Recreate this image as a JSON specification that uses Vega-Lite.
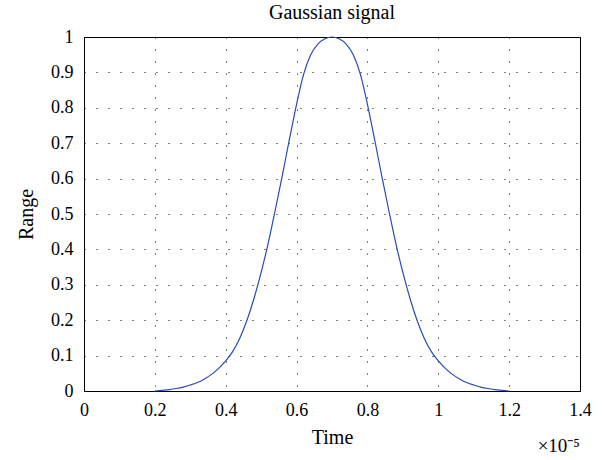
{
  "$schema": "https://vega.github.io/schema/vega-lite/v6.json",
  "width": 496,
  "height": 354,
  "autosize": {"type": "none"},
  "padding": {"left": 84, "top": 37, "right": 23, "bottom": 69},
  "background": "white",
  "config": {
    "font": "Liberation Serif",
    "view": {"stroke": "black", "strokeWidth": 1},
    "axis": {
      "domainColor": "black",
      "domainWidth": 1,
      "ticks": false,
      "labelFont": "Liberation Serif",
      "labelFontSize": 18,
      "labelColor": "black",
      "labelOverlap": false,
      "titleFont": "Liberation Serif",
      "titleFontSize": 20,
      "titleFontWeight": "normal",
      "titleColor": "black",
      "gridColor": "black",
      "gridOpacity": 1,
      "gridWidth": 1,
      "gridDash": [1, 11]
    },
    "title": {"font": "Liberation Serif", "fontSize": 20, "fontWeight": "normal", "color": "black"}
  },
  "title": {"text": "Gaussian signal", "offset": 5},
  "datasets": {
    "signal": [
      {"t": 0.20, "v": 0.000},
      {"t": 0.22, "v": 0.002},
      {"t": 0.24, "v": 0.004},
      {"t": 0.26, "v": 0.007},
      {"t": 0.28, "v": 0.011},
      {"t": 0.30, "v": 0.017},
      {"t": 0.32, "v": 0.024},
      {"t": 0.34, "v": 0.034},
      {"t": 0.36, "v": 0.047},
      {"t": 0.38, "v": 0.064},
      {"t": 0.40, "v": 0.085},
      {"t": 0.42, "v": 0.112},
      {"t": 0.44, "v": 0.150},
      {"t": 0.46, "v": 0.200},
      {"t": 0.48, "v": 0.262},
      {"t": 0.50, "v": 0.335},
      {"t": 0.52, "v": 0.418},
      {"t": 0.54, "v": 0.512},
      {"t": 0.56, "v": 0.610},
      {"t": 0.58, "v": 0.712},
      {"t": 0.60, "v": 0.810},
      {"t": 0.62, "v": 0.895},
      {"t": 0.64, "v": 0.950},
      {"t": 0.66, "v": 0.980},
      {"t": 0.68, "v": 0.995},
      {"t": 0.70, "v": 1.000},
      {"t": 0.72, "v": 0.995},
      {"t": 0.74, "v": 0.980},
      {"t": 0.76, "v": 0.950},
      {"t": 0.78, "v": 0.895},
      {"t": 0.80, "v": 0.810},
      {"t": 0.82, "v": 0.712},
      {"t": 0.84, "v": 0.610},
      {"t": 0.86, "v": 0.512},
      {"t": 0.88, "v": 0.418},
      {"t": 0.90, "v": 0.335},
      {"t": 0.92, "v": 0.262},
      {"t": 0.94, "v": 0.200},
      {"t": 0.96, "v": 0.150},
      {"t": 0.98, "v": 0.112},
      {"t": 1.00, "v": 0.085},
      {"t": 1.02, "v": 0.064},
      {"t": 1.04, "v": 0.047},
      {"t": 1.06, "v": 0.034},
      {"t": 1.08, "v": 0.024},
      {"t": 1.10, "v": 0.017},
      {"t": 1.12, "v": 0.011},
      {"t": 1.14, "v": 0.007},
      {"t": 1.16, "v": 0.004},
      {"t": 1.18, "v": 0.002},
      {"t": 1.20, "v": 0.000}
    ],
    "note": [{"t": 1.4, "v": 0, "label": "×10⁻⁵"}]
  },
  "encoding": {
    "x": {
      "field": "t",
      "type": "quantitative",
      "title": "Time",
      "scale": {"domain": [0, 1.4], "nice": false},
      "axis": {"values": [0, 0.2, 0.4, 0.6, 0.8, 1, 1.2, 1.4], "format": "~g", "labelFont": "Liberation Serif", "labelPadding": 10, "titlePadding": 8, "labelFlush": false, "labelOverlap": false}
    },
    "y": {
      "field": "v",
      "type": "quantitative",
      "title": "Range",
      "scale": {"domain": [0, 1], "nice": false},
      "axis": {"values": [0, 0.1, 0.2, 0.3, 0.4, 0.5, 0.6, 0.7, 0.8, 0.9, 1], "format": "~g", "labelFont": "Liberation Serif", "labelPadding": 11, "titlePadding": 14, "labelFlush": false, "labelOverlap": false}
    }
  },
  "layer": [
    {
      "data": {"name": "signal"},
      "mark": {"type": "line", "color": "#2a4bb0", "strokeWidth": 1.2, "interpolate": "monotone"}
    },
    {
      "data": {"name": "note"},
      "mark": {"type": "text", "align": "right", "baseline": "alphabetic", "dy": 61, "fontSize": 19, "font": "Liberation Serif", "color": "black"},
      "encoding": {
        "text": {"field": "label"}
      }
    }
  ]
}
